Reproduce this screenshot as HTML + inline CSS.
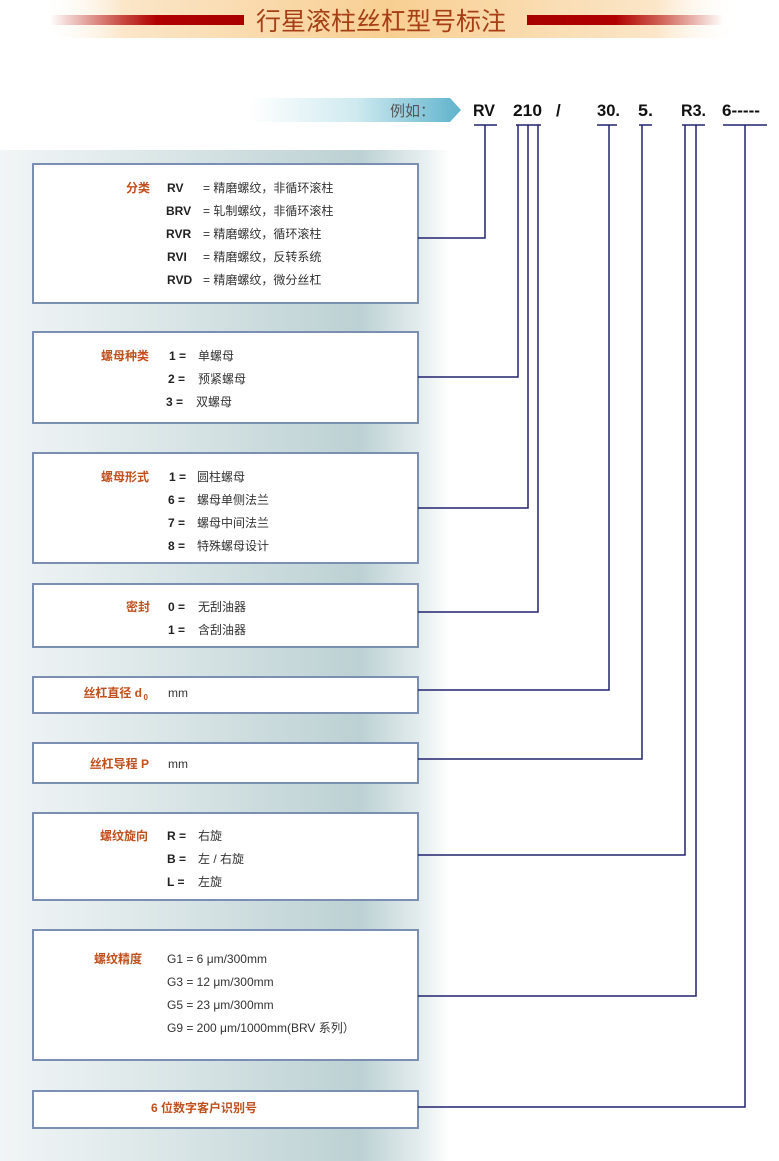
<!DOCTYPE html>
<html><head><meta charset="utf-8"><style>
html,body{margin:0;padding:0;background:#fff;}
body{width:779px;height:1161px;position:relative;overflow:hidden;font-family:"Liberation Sans","Noto Sans CJK SC",sans-serif;}
</style></head><body>
<svg width="779" height="1161" xmlns="http://www.w3.org/2000/svg" style="position:absolute;left:0;top:0">
<defs>
<linearGradient id="band" x1="0" x2="1" y1="0" y2="0">
<stop offset="0" stop-color="#fff" stop-opacity="0"/><stop offset="0.12" stop-color="#fbe6c8"/><stop offset="0.5" stop-color="#f8cf92"/><stop offset="0.88" stop-color="#fbe6c8"/><stop offset="1" stop-color="#fff" stop-opacity="0"/></linearGradient>
<linearGradient id="redL" x1="0" x2="1"><stop offset="0" stop-color="#b00000" stop-opacity="0"/><stop offset="0.55" stop-color="#b00000"/><stop offset="1" stop-color="#a80000"/></linearGradient>
<linearGradient id="redR" x1="0" x2="1"><stop offset="0" stop-color="#a80000"/><stop offset="0.45" stop-color="#b00000"/><stop offset="1" stop-color="#b00000" stop-opacity="0"/></linearGradient>
<linearGradient id="arrow" x1="0" x2="1"><stop offset="0" stop-color="#fff"/><stop offset="0.5" stop-color="#cfeaf0"/><stop offset="1" stop-color="#5fb3cc"/></linearGradient>
<linearGradient id="panel" x1="0" x2="1"><stop offset="0" stop-color="#f1f5f6"/><stop offset="0.3" stop-color="#dfe9ea"/><stop offset="0.8" stop-color="#bcd1d3"/><stop offset="0.93" stop-color="#e3eced"/><stop offset="1" stop-color="#fff"/></linearGradient>
</defs>
<rect x="40" y="0" width="700" height="38" fill="url(#band)"/>
<rect x="50" y="15" width="194" height="10" fill="url(#redL)"/>
<rect x="527" y="15" width="196" height="10" fill="url(#redR)"/>
<text x="381" y="30" text-anchor="middle" font-size="25" fill="#a63f16" font-family="Noto Sans CJK SC, sans-serif">行星滚柱丝杠型号标注</text>

<polygon points="250,98 450,98 461,110 450,122 250,122" fill="url(#arrow)"/>
<text x="390" y="116" font-size="15" fill="#555" font-family="Noto Sans CJK SC, sans-serif">例如：</text>
<g font-size="17" font-weight="700" fill="#111" font-family="Liberation Sans, sans-serif" lengthAdjust="spacingAndGlyphs">
<text x="473" y="116" textLength="22" lengthAdjust="spacingAndGlyphs">RV</text>
<text x="513" y="116" textLength="29" lengthAdjust="spacingAndGlyphs">210</text>
<text x="556" y="116">/</text>
<text x="597" y="116" textLength="23" lengthAdjust="spacingAndGlyphs">30.</text>
<text x="638" y="116" textLength="15" lengthAdjust="spacingAndGlyphs">5.</text>
<text x="681" y="116" textLength="25" lengthAdjust="spacingAndGlyphs">R3.</text>
<text x="722" y="116" textLength="38" lengthAdjust="spacingAndGlyphs">6-----</text>
</g>

<rect x="0" y="150" width="450" height="1011" fill="url(#panel)"/>

<g fill="#fff" stroke="#7b8fb3" stroke-width="2">
<rect x="33" y="164" width="385" height="139"/>
<rect x="33" y="332" width="385" height="91"/>
<rect x="33" y="453" width="385" height="110"/>
<rect x="33" y="584" width="385" height="63"/>
<rect x="33" y="677" width="385" height="36"/>
<rect x="33" y="743" width="385" height="40"/>
<rect x="33" y="813" width="385" height="87"/>
<rect x="33" y="930" width="385" height="130"/>
<rect x="33" y="1091" width="385" height="37"/>
</g>

<g stroke="#23236e" stroke-width="1.5" fill="none">
<path d="M474 125H497M516 125H541M597 125H617M639 125H652M682 125H705M723 125H767"/>
<path d="M485 125V238H418"/>
<path d="M518 125V377H418"/>
<path d="M528 125V508H418"/>
<path d="M538 125V612H418"/>
<path d="M609 125V690H418"/>
<path d="M642 125V759H418"/>
<path d="M685 125V855H418"/>
<path d="M696 125V996H418"/>
<path d="M745 125V1107H418"/>
</g>

<g font-size="12" fill="#333" font-family="Liberation Sans, Noto Sans CJK SC, sans-serif">
<g fill="#c0501e" font-weight="bold" text-anchor="end">
<text x="150" y="192">分类</text>
<text x="149" y="360">螺母种类</text>
<text x="149" y="481">螺母形式</text>
<text x="150" y="611">密封</text>
<text x="142" y="697">丝杠直径 d</text><text x="148" y="700" font-size="8" text-anchor="end">0</text>
<text x="149" y="768">丝杠导程 P</text>
<text x="148" y="840">螺纹旋向</text>
<text x="142" y="963">螺纹精度</text>
</g>
<text x="204" y="1112" fill="#c0501e" font-weight="bold" text-anchor="middle">6 位数字客户识别号</text>
<g font-weight="bold" fill="#222">
<text x="167" y="192">RV</text><text x="166" y="215">BRV</text><text x="166" y="238">RVR</text><text x="167" y="261">RVI</text><text x="167" y="284">RVD</text>
<text x="169" y="360">1 =</text><text x="168" y="383">2 =</text><text x="166" y="406">3 =</text>
<text x="169" y="481">1 =</text><text x="168" y="504">6 =</text><text x="168" y="527">7 =</text><text x="168" y="550">8 =</text>
<text x="168" y="611">0 =</text><text x="168" y="634">1 =</text>
<text x="167" y="840">R =</text><text x="167" y="863">B =</text><text x="167" y="886">L =</text>
</g>
<text x="203" y="192">= 精磨螺纹，非循环滚柱</text>
<text x="203" y="215">= 轧制螺纹，非循环滚柱</text>
<text x="203" y="238">= 精磨螺纹，循环滚柱</text>
<text x="203" y="261">= 精磨螺纹，反转系统</text>
<text x="203" y="284">= 精磨螺纹，微分丝杠</text>
<text x="198" y="360">单螺母</text><text x="198" y="383">预紧螺母</text><text x="196" y="406">双螺母</text>
<text x="197" y="481">圆柱螺母</text><text x="197" y="504">螺母单侧法兰</text><text x="197" y="527">螺母中间法兰</text><text x="197" y="550">特殊螺母设计</text>
<text x="198" y="611">无刮油器</text><text x="198" y="634">含刮油器</text>
<text x="168" y="697">mm</text>
<text x="168" y="768">mm</text>
<text x="198" y="840">右旋</text><text x="198" y="863">左 / 右旋</text><text x="198" y="886">左旋</text>
<text x="167" y="963">G1 =  6 μm/300mm</text>
<text x="167" y="986">G3 =  12 μm/300mm</text>
<text x="167" y="1009">G5 =  23 μm/300mm</text>
<text x="167" y="1032">G9 =  200 μm/1000mm(BRV 系列）</text>
</g>
</svg>
</body></html>
